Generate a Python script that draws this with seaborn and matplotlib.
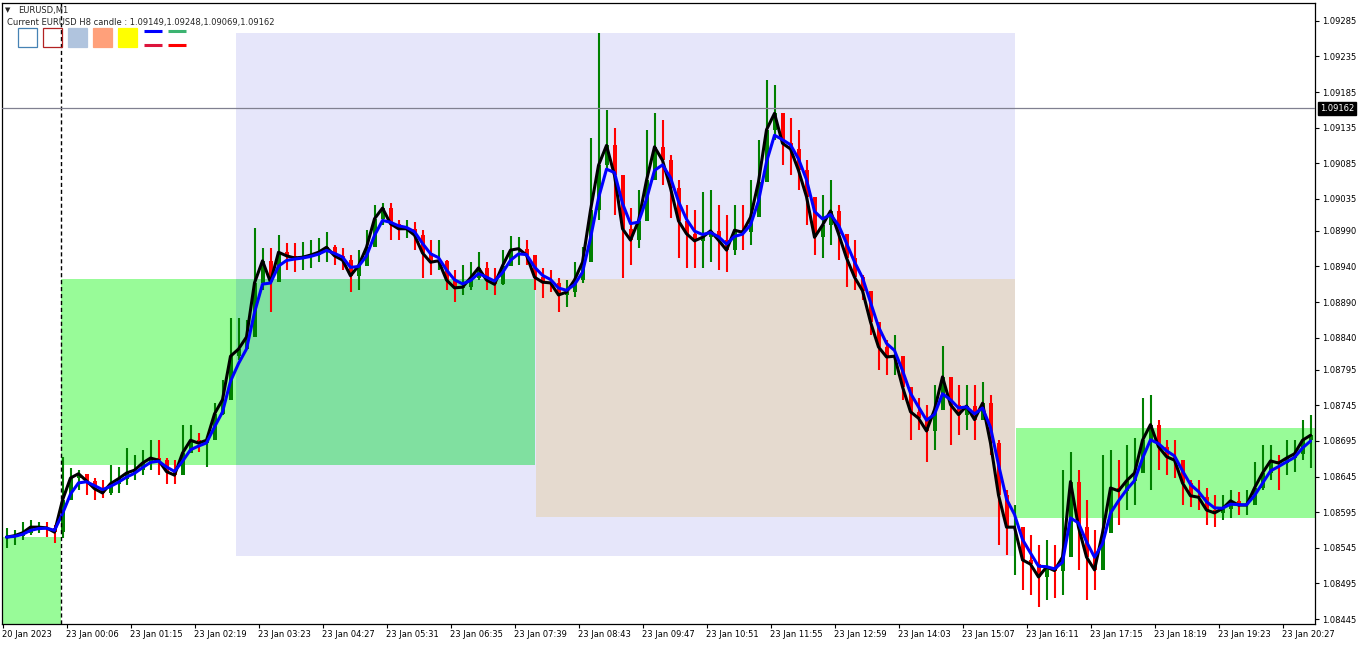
import numpy as np
import pandas as pd
import matplotlib
matplotlib.use("Agg")
import matplotlib.pyplot as plt
import matplotlib.transforms as mtransforms
from matplotlib.patches import Rectangle
from matplotlib.lines import Line2D
import seaborn as sns

# ---------------- data (EURUSD M1, grouped in 8-bar candles) ----------------
close = [1.08560, 1.08562, 1.08566, 1.08574, 1.08574, 1.08573, 1.08567, 1.08612,
         1.08643, 1.08649, 1.08639, 1.08628, 1.08622, 1.08635, 1.08642, 1.08650,
         1.08654, 1.08664, 1.08671, 1.08668, 1.08652, 1.08647, 1.08678, 1.08696,
         1.08692, 1.08696, 1.08733, 1.08753, 1.08814, 1.08824, 1.08841, 1.08917,
         1.08948, 1.08918, 1.08960, 1.08955, 1.08952, 1.08953, 1.08956, 1.08960,
         1.08967, 1.08955, 1.08949, 1.08927, 1.08941, 1.08967, 1.09007, 1.09022,
         1.09000, 1.08993, 1.08993, 1.08984, 1.08959, 1.08946, 1.08948, 1.08921,
         1.08910, 1.08911, 1.08924, 1.08938, 1.08921, 1.08915, 1.08941, 1.08963,
         1.08965, 1.08956, 1.08925, 1.08918, 1.08917, 1.08900, 1.08904, 1.08921,
         1.08946, 1.09019, 1.09082, 1.09110, 1.09068, 1.08993, 1.08977, 1.09004,
         1.09061, 1.09108, 1.09089, 1.09050, 1.09004, 1.08986, 1.08976, 1.08981,
         1.08990, 1.08977, 1.08963, 1.08991, 1.08988, 1.09009, 1.09059, 1.09132,
         1.09155, 1.09113, 1.09105, 1.09075, 1.09038, 1.08981, 1.08998, 1.09018,
         1.08986, 1.08952, 1.08925, 1.08906, 1.08862, 1.08827, 1.08813, 1.08814,
         1.08771, 1.08736, 1.08727, 1.08709, 1.08739, 1.08785, 1.08746, 1.08732,
         1.08744, 1.08725, 1.08748, 1.08692, 1.08619, 1.08574, 1.08574, 1.08528,
         1.08522, 1.08504, 1.08518, 1.08513, 1.08532, 1.08638, 1.08574, 1.08532,
         1.08514, 1.08566, 1.08629, 1.08625, 1.08639, 1.08650, 1.08696, 1.08718,
         1.08687, 1.08673, 1.08668, 1.08636, 1.08618, 1.08616, 1.08598, 1.08594,
         1.08600, 1.08611, 1.08605, 1.08605, 1.08629, 1.08650, 1.08667, 1.08664,
         1.08671, 1.08677, 1.08696, 1.08703]

high = [1.08573, 1.08570, 1.08581, 1.08584, 1.08581, 1.08581, 1.08577, 1.08673,
        1.08657, 1.08654, 1.08647, 1.08643, 1.08640, 1.08661, 1.08659, 1.08685,
        1.08675, 1.08682, 1.08696, 1.08696, 1.08671, 1.08668, 1.08718, 1.08718,
        1.08706, 1.08699, 1.08748, 1.08781, 1.08868, 1.08868, 1.08865, 1.08994,
        1.08966, 1.08966, 1.08984, 1.08973, 1.08973, 1.08974, 1.08977, 1.08980,
        1.08988, 1.08970, 1.08966, 1.08956, 1.08963, 1.08991, 1.09026, 1.09029,
        1.09029, 1.09005, 1.09005, 1.09002, 1.08991, 1.08977, 1.08977, 1.08949,
        1.08935, 1.08942, 1.08946, 1.08960, 1.08946, 1.08938, 1.08963, 1.08983,
        1.08981, 1.08977, 1.08956, 1.08938, 1.08935, 1.08924, 1.08921, 1.08946,
        1.08967, 1.09120, 1.09268, 1.09160, 1.09134, 1.09047, 1.09022, 1.09047,
        1.09132, 1.09155, 1.09146, 1.09096, 1.09061, 1.09026, 1.09019, 1.09045,
        1.09047, 1.09026, 1.09012, 1.09026, 1.09026, 1.09061, 1.09118, 1.09202,
        1.09195, 1.09153, 1.09148, 1.09132, 1.09089, 1.09033, 1.09040, 1.09061,
        1.09026, 1.08977, 1.08977, 1.08928, 1.08900, 1.08851, 1.08837, 1.08844,
        1.08806, 1.08767, 1.08755, 1.08746, 1.08774, 1.08828, 1.08774, 1.08774,
        1.08774, 1.08774, 1.08778, 1.08760, 1.08696, 1.08626, 1.08605, 1.08570,
        1.08563, 1.08549, 1.08556, 1.08549, 1.08654, 1.08680, 1.08654, 1.08612,
        1.08570, 1.08675, 1.08682, 1.08668, 1.08689, 1.08699, 1.08755, 1.08760,
        1.08725, 1.08696, 1.08696, 1.08668, 1.08640, 1.08640, 1.08629, 1.08619,
        1.08619, 1.08626, 1.08624, 1.08626, 1.08666, 1.08689, 1.08689, 1.08675,
        1.08696, 1.08696, 1.08725, 1.08732]

low = [1.08545, 1.08549, 1.08556, 1.08563, 1.08566, 1.08560, 1.08552, 1.08559,
       1.08626, 1.08626, 1.08619, 1.08612, 1.08615, 1.08619, 1.08622, 1.08633,
       1.08640, 1.08647, 1.08654, 1.08647, 1.08635, 1.08635, 1.08661, 1.08682,
       1.08680, 1.08659, 1.08725, 1.08732, 1.08802, 1.08809, 1.08830, 1.08893,
       1.08907, 1.08876, 1.08935, 1.08935, 1.08932, 1.08935, 1.08938, 1.08946,
       1.08946, 1.08942, 1.08935, 1.08904, 1.08907, 1.08946, 1.08980, 1.08998,
       1.08977, 1.08977, 1.08980, 1.08963, 1.08924, 1.08928, 1.08935, 1.08907,
       1.08890, 1.08900, 1.08907, 1.08921, 1.08907, 1.08900, 1.08914, 1.08946,
       1.08942, 1.08942, 1.08907, 1.08896, 1.08904, 1.08876, 1.08883, 1.08897,
       1.08917, 1.08949, 1.09005, 1.09075, 1.09012, 1.08924, 1.08942, 1.08966,
       1.09026, 1.09075, 1.09054, 1.09008, 1.08952, 1.08938, 1.08938, 1.08938,
       1.08946, 1.08935, 1.08932, 1.08956, 1.08963, 1.08970, 1.09012, 1.09096,
       1.09118, 1.09082, 1.09068, 1.09047, 1.08998, 1.08956, 1.08952, 1.08970,
       1.08949, 1.08911, 1.08907, 1.08893, 1.08844, 1.08795, 1.08788, 1.08788,
       1.08753, 1.08696, 1.08711, 1.08666, 1.08682, 1.08753, 1.08689, 1.08703,
       1.08711, 1.08696, 1.08725, 1.08675, 1.08549, 1.08535, 1.08507, 1.08486,
       1.08479, 1.08462, 1.08472, 1.08475, 1.08479, 1.08598, 1.08514, 1.08472,
       1.08486, 1.08528, 1.08591, 1.08577, 1.08598, 1.08605, 1.08661, 1.08626,
       1.08654, 1.08647, 1.08643, 1.08605, 1.08602, 1.08598, 1.08577, 1.08574,
       1.08584, 1.08587, 1.08591, 1.08591, 1.08605, 1.08626, 1.08640, 1.08626,
       1.08647, 1.08652, 1.08668, 1.08657]

bars_per_candle = 8          # M1 bars grouped per drawn candle
n_bars = 1312                # M1 bars on screen

tick_bars = [0, 64, 128, 192, 256, 320, 384, 448, 512, 576, 640, 704, 768,
             832, 896, 960, 1024, 1088, 1152, 1216, 1280]
tick_labels = ["20 Jan 2023", "23 Jan 00:06", "23 Jan 01:15", "23 Jan 02:19",
               "23 Jan 03:23", "23 Jan 04:27", "23 Jan 05:31", "23 Jan 06:35",
               "23 Jan 07:39", "23 Jan 08:43", "23 Jan 09:47", "23 Jan 10:51",
               "23 Jan 11:55", "23 Jan 12:59", "23 Jan 14:03", "23 Jan 15:07",
               "23 Jan 16:11", "23 Jan 17:15", "23 Jan 18:19", "23 Jan 19:23",
               "23 Jan 20:27"]

price_ticks = [1.09285, 1.09235, 1.09185, 1.09135, 1.09085, 1.09035, 1.08990,
               1.08940, 1.08890, 1.08840, 1.08795, 1.08745, 1.08695, 1.08645,
               1.08595, 1.08545, 1.08495, 1.08445]

current_price = 1.09162
day_start_bar = 58
h8_candle = [1.09149, 1.09248, 1.09069, 1.09162]

# zones: start bar, end bar, top, bottom
zone_start = [-1, 58, 233, 533, 1013]
zone_end = [58, 532, 1012, 1012, 1314]
zone_top = [1.08560, 1.08922, 1.09268, 1.08922, 1.08713]
zone_bottom = [1.08400, 1.08661, 1.08534, 1.08588, 1.08587]
zone_color = ["#98FB98", "#98FB98", "#E6E6FA", "#E5DACF", "#98FB98"]
zone_order = [2, 0, 1, 3, 4]
overlap_color = "#80E0A0"

# ---------------- figure ----------------
W, H = 1362, 645
sns.set_theme(style="white")
plt.rcParams["font.family"] = ["DejaVu Sans"]

fig = plt.figure(figsize=(W / 100, H / 100), dpi=100)
fig.patch.set_facecolor("white")
L, R, T, B = 2, 1315, 3, 624
ax = fig.add_axes([L / W, 1 - B / H, (R - L) / W, (B - T) / H])
ax.set_facecolor("white")

ymin, ymax = 1.08438, 1.09310
ax.set_xlim(-1, n_bars)
ax.set_ylim(ymin, ymax)

# zones
for i in zone_order:
    ax.add_patch(Rectangle((zone_start[i], zone_bottom[i]),
                           zone_end[i] - zone_start[i],
                           zone_top[i] - zone_bottom[i],
                           facecolor=zone_color[i], edgecolor="none", zorder=0.5))
# overlap of first-day green zone and lavender zone
ox0 = max(zone_start[1], zone_start[2]); ox1 = min(zone_end[1], zone_end[2])
oy0 = max(zone_bottom[1], zone_bottom[2]); oy1 = min(zone_top[1], zone_top[2])
ax.add_patch(Rectangle((ox0, oy0), ox1 - ox0, oy1 - oy0,
                       facecolor=overlap_color, edgecolor="none", zorder=0.6))

# candles
c = np.array(close)
o = np.concatenate([[c[0]], c[:-1]])
hi = np.maximum(np.array(high), np.maximum(o, c))
lo = np.minimum(np.array(low), np.minimum(o, c))
centers = np.arange(len(c)) * bars_per_candle + bars_per_candle / 2 - 0.5
cols = np.where(c >= o, "#008000", "#FF0000")
ax.vlines(centers, lo, hi, colors=cols, lw=1.5, zorder=2)
ax.bar(centers, c - o, bottom=o, width=4, color=cols, linewidth=0, zorder=2)

# moving averages
df = pd.DataFrame({"bar": centers, "fast": c})
df["slow"] = df["fast"].ewm(alpha=0.55, adjust=False).mean()
sns.lineplot(data=df, x="bar", y="fast", color="black", lw=2.2, ax=ax, zorder=3)
sns.lineplot(data=df, x="bar", y="slow", color="#0000FF", lw=2.2, ax=ax, zorder=4)

# separators / current price line
ax.axvline(day_start_bar, color="black", lw=1.0, ls=(0, (3, 2)), zorder=5)
ax.axhline(current_price, color="#808090", lw=0.9, zorder=5)

# axes styling
for s in ax.spines.values():
    s.set_visible(True)
    s.set_color("black")
    s.set_linewidth(0.9)
ax.set_xlabel("")
ax.set_ylabel("")
ax.yaxis.tick_right()
ax.set_yticks(price_ticks)
ax.set_yticklabels([f"{p:.5f}" for p in price_ticks])
ax.set_xticks(tick_bars)
ax.set_xticklabels(tick_labels)
ax.tick_params(axis="y", direction="out", length=3, width=0.8, pad=2,
               labelsize=6, colors="black", right=True, left=False)
ax.tick_params(axis="x", direction="out", length=3, width=0.8, pad=1.5,
               labelsize=6, colors="black", bottom=True)
for lab in ax.get_xticklabels():
    lab.set_ha("left")
    lab.set_transform(lab.get_transform() +
                      mtransforms.ScaledTranslation(-1 / 100, 0, fig.dpi_scale_trans))
ax.grid(False)

# current price label
trans = mtransforms.blended_transform_factory(ax.transAxes, ax.transData) + \
    mtransforms.ScaledTranslation(5 / 100, 0, fig.dpi_scale_trans)
ax.text(1.0, current_price, f"{current_price:.5f}", transform=trans,
        fontsize=6, color="white", ha="left", va="center", zorder=10,
        bbox=dict(boxstyle="square,pad=0.22", fc="black", ec="black"),
        clip_on=False)

# header
def fx(px):
    return px / W

def fy(py):
    return 1 - py / H

fig.text(fx(5), fy(10), "\u25BC", fontsize=5, ha="left", va="center")
fig.text(fx(18), fy(10.5), "EURUSD,M1", fontsize=6, ha="left", va="center")
fig.text(fx(7), fy(23), "Current EURUSD H8 candle : " +
         ",".join(f"{v:.5f}" for v in h8_candle),
         fontsize=6, ha="left", va="center")

box_x = [18, 43, 68, 93, 118]
box_face = ["none", "none", "#B0C4DE", "#FFA07A", "#FFFF00"]
box_edge = ["#4682B4", "#B22222", "#B0C4DE", "#FFA07A", "#FFFF00"]
for bx, fc, ec in zip(box_x, box_face, box_edge):
    fig.add_artist(Rectangle((fx(bx), fy(47)), 19 / W, 19 / H,
                             transform=fig.transFigure, facecolor=fc,
                             edgecolor=ec, lw=0.9))
seg_x = [144, 168, 144, 168]
seg_y = [31, 31, 45, 45]
seg_c = ["#0000FF", "#3CB371", "#DC143C", "#FF0000"]
for sx, sy, sc in zip(seg_x, seg_y, seg_c):
    fig.add_artist(Line2D([fx(sx), fx(sx + 18)], [fy(sy), fy(sy)],
                          transform=fig.transFigure, color=sc, lw=2.2,
                          solid_capstyle="butt"))

fig.savefig("out.png", dpi=100)
